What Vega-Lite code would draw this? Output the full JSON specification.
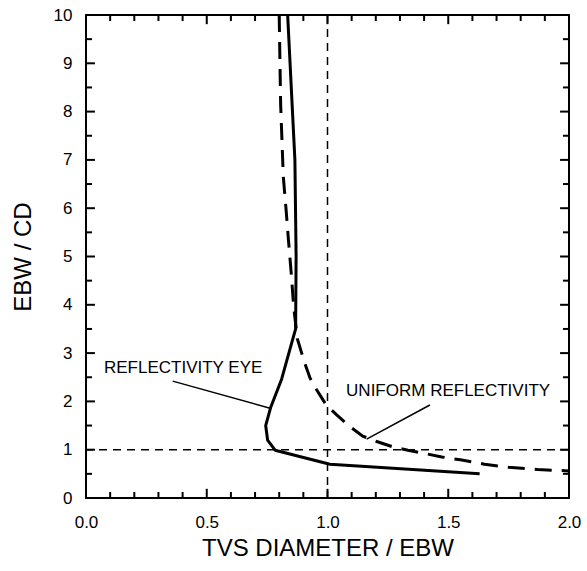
{
  "$schema": "https://vega.github.io/schema/vega-lite/v6.json",
  "width": 483,
  "height": 483,
  "autosize": {"type": "none"},
  "padding": {"left": 86, "top": 15, "right": 18, "bottom": 73},
  "background": "white",
  "config": {
    "view": {"stroke": "black", "strokeWidth": 2},
    "axis": {
      "grid": false,
      "domain": false,
      "ticks": false,
      "labelFlush": false,
      "labelOverlap": false,
      "labelColor": "black",
      "labelFont": "Liberation Sans",
      "labelFontSize": 17,
      "titleFont": "Liberation Sans",
      "titleFontSize": 24,
      "titleFontWeight": "normal",
      "titleColor": "black"
    }
  },
  "datasets": {
    "curves": [
      {"series": "eye", "i": 1, "x": 0.835, "y": 10},
      {"series": "eye", "i": 2, "x": 0.845, "y": 9},
      {"series": "eye", "i": 3, "x": 0.855, "y": 8},
      {"series": "eye", "i": 4, "x": 0.865, "y": 7},
      {"series": "eye", "i": 5, "x": 0.87, "y": 5},
      {"series": "eye", "i": 6, "x": 0.868, "y": 3.5},
      {"series": "eye", "i": 7, "x": 0.81, "y": 2.46},
      {"series": "eye", "i": 8, "x": 0.765, "y": 1.88},
      {"series": "eye", "i": 9, "x": 0.744, "y": 1.5},
      {"series": "eye", "i": 10, "x": 0.752, "y": 1.2},
      {"series": "eye", "i": 11, "x": 0.783, "y": 0.99},
      {"series": "eye", "i": 12, "x": 1.01, "y": 0.7},
      {"series": "eye", "i": 13, "x": 1.63, "y": 0.5},
      {"series": "uniform", "i": 1, "x": 0.8, "y": 10},
      {"series": "uniform", "i": 2, "x": 0.806, "y": 8.15},
      {"series": "uniform", "i": 3, "x": 0.817, "y": 6.65},
      {"series": "uniform", "i": 4, "x": 0.828, "y": 6.0},
      {"series": "uniform", "i": 5, "x": 0.839, "y": 5.3},
      {"series": "uniform", "i": 6, "x": 0.85, "y": 4.64},
      {"series": "uniform", "i": 7, "x": 0.86, "y": 3.96},
      {"series": "uniform", "i": 8, "x": 0.875, "y": 3.3},
      {"series": "uniform", "i": 9, "x": 0.904, "y": 2.82},
      {"series": "uniform", "i": 10, "x": 0.928, "y": 2.48},
      {"series": "uniform", "i": 11, "x": 0.955, "y": 2.24},
      {"series": "uniform", "i": 12, "x": 0.994, "y": 1.93},
      {"series": "uniform", "i": 13, "x": 1.038, "y": 1.72},
      {"series": "uniform", "i": 14, "x": 1.093, "y": 1.48},
      {"series": "uniform", "i": 15, "x": 1.146, "y": 1.28},
      {"series": "uniform", "i": 16, "x": 1.204, "y": 1.17},
      {"series": "uniform", "i": 17, "x": 1.27, "y": 1.06},
      {"series": "uniform", "i": 18, "x": 1.333, "y": 0.99},
      {"series": "uniform", "i": 19, "x": 1.404, "y": 0.92},
      {"series": "uniform", "i": 20, "x": 1.473, "y": 0.85},
      {"series": "uniform", "i": 21, "x": 1.55, "y": 0.79},
      {"series": "uniform", "i": 22, "x": 1.65, "y": 0.7},
      {"series": "uniform", "i": 23, "x": 1.75, "y": 0.635},
      {"series": "uniform", "i": 24, "x": 1.87, "y": 0.59},
      {"series": "uniform", "i": 25, "x": 2.0, "y": 0.56}
    ],
    "xmajor": [{"v": 0.5}, {"v": 1.0}, {"v": 1.5}],
    "xminor": [
      {"v": 0.1}, {"v": 0.2}, {"v": 0.3}, {"v": 0.4}, {"v": 0.6}, {"v": 0.7}, {"v": 0.8}, {"v": 0.9},
      {"v": 1.1}, {"v": 1.2}, {"v": 1.3}, {"v": 1.4}, {"v": 1.6}, {"v": 1.7}, {"v": 1.8}, {"v": 1.9}
    ],
    "ymajor": [{"v": 1}, {"v": 2}, {"v": 3}, {"v": 4}, {"v": 5}, {"v": 6}, {"v": 7}, {"v": 8}, {"v": 9}],
    "yminor": [
      {"v": 0.5}, {"v": 1.5}, {"v": 2.5}, {"v": 3.5}, {"v": 4.5},
      {"v": 5.5}, {"v": 6.5}, {"v": 7.5}, {"v": 8.5}, {"v": 9.5}
    ],
    "refx": [{"x": 1}],
    "refy": [{"y": 1}],
    "leaders": [
      {"x": 0.359, "y": 2.42, "x2": 0.762, "y2": 1.86},
      {"x": 1.424, "y": 1.925, "x2": 1.162, "y2": 1.22}
    ],
    "labels": [
      {"x": 0.0745, "y": 2.59, "text": "REFLECTIVITY EYE"},
      {"x": 1.077, "y": 2.11, "text": "UNIFORM REFLECTIVITY"}
    ]
  },
  "layer": [
    {
      "data": {"name": "curves"},
      "transform": [{"filter": "datum.series === 'eye'"}],
      "mark": {"type": "line", "color": "black", "strokeWidth": 3, "strokeJoin": "round"},
      "encoding": {
        "x": {"field": "x", "type": "quantitative",
              "scale": {"domain": [0, 2], "nice": false, "zero": false},
              "axis": {"orient": "bottom", "values": [0, 0.5, 1, 1.5, 2], "format": ".1f",
                       "labelPadding": 16, "title": "TVS DIAMETER / EBW", "titlePadding": 6}},
        "y": {"field": "y", "type": "quantitative",
              "scale": {"domain": [0, 10], "nice": false, "zero": false},
              "axis": {"orient": "left", "values": [0,1,2,3,4,5,6,7,8,9,10],
                       "labelPadding": 14, "title": "EBW / CD", "titlePadding": 18}},
        "order": {"field": "i", "type": "quantitative"}
      }
    },
    {
      "data": {"name": "curves"},
      "transform": [{"filter": "datum.series === 'uniform'"}],
      "mark": {"type": "line", "color": "black", "strokeWidth": 3, "strokeDash": [17, 10]},
      "encoding": {
        "x": {"field": "x", "type": "quantitative"},
        "y": {"field": "y", "type": "quantitative"},
        "order": {"field": "i", "type": "quantitative"}
      }
    },
    {
      "data": {"name": "refx"},
      "mark": {"type": "rule", "color": "black", "strokeWidth": 1.5, "strokeDash": [8, 6]},
      "encoding": {"x": {"field": "x", "type": "quantitative"}}
    },
    {
      "data": {"name": "refy"},
      "mark": {"type": "rule", "color": "black", "strokeWidth": 1.5, "strokeDash": [8, 6]},
      "encoding": {"y": {"field": "y", "type": "quantitative"}}
    },
    {
      "data": {"name": "leaders"},
      "mark": {"type": "rule", "color": "black", "strokeWidth": 1.5},
      "encoding": {
        "x": {"field": "x", "type": "quantitative"},
        "y": {"field": "y", "type": "quantitative"},
        "x2": {"field": "x2"},
        "y2": {"field": "y2"}
      }
    },
    {
      "data": {"name": "xmajor"},
      "mark": {"type": "rule", "color": "black", "strokeWidth": 2},
      "encoding": {"x": {"field": "v", "type": "quantitative"}, "y": {"datum": 0, "type": "quantitative"}, "y2": {"datum": 0.19}}
    },
    {
      "data": {"name": "xmajor"},
      "mark": {"type": "rule", "color": "black", "strokeWidth": 2},
      "encoding": {"x": {"field": "v", "type": "quantitative"}, "y": {"datum": 10, "type": "quantitative"}, "y2": {"datum": 9.81}}
    },
    {
      "data": {"name": "xminor"},
      "mark": {"type": "rule", "color": "black", "strokeWidth": 2},
      "encoding": {"x": {"field": "v", "type": "quantitative"}, "y": {"datum": 0, "type": "quantitative"}, "y2": {"datum": 0.125}}
    },
    {
      "data": {"name": "xminor"},
      "mark": {"type": "rule", "color": "black", "strokeWidth": 2},
      "encoding": {"x": {"field": "v", "type": "quantitative"}, "y": {"datum": 10, "type": "quantitative"}, "y2": {"datum": 9.875}}
    },
    {
      "data": {"name": "ymajor"},
      "mark": {"type": "rule", "color": "black", "strokeWidth": 2},
      "encoding": {"y": {"field": "v", "type": "quantitative"}, "x": {"datum": 0, "type": "quantitative"}, "x2": {"datum": 0.037}}
    },
    {
      "data": {"name": "ymajor"},
      "mark": {"type": "rule", "color": "black", "strokeWidth": 2},
      "encoding": {"y": {"field": "v", "type": "quantitative"}, "x": {"datum": 2, "type": "quantitative"}, "x2": {"datum": 1.963}}
    },
    {
      "data": {"name": "yminor"},
      "mark": {"type": "rule", "color": "black", "strokeWidth": 2},
      "encoding": {"y": {"field": "v", "type": "quantitative"}, "x": {"datum": 0, "type": "quantitative"}, "x2": {"datum": 0.025}}
    },
    {
      "data": {"name": "yminor"},
      "mark": {"type": "rule", "color": "black", "strokeWidth": 2},
      "encoding": {"y": {"field": "v", "type": "quantitative"}, "x": {"datum": 2, "type": "quantitative"}, "x2": {"datum": 1.975}}
    },
    {
      "data": {"name": "labels"},
      "mark": {"type": "text", "color": "black", "font": "Liberation Sans", "fontSize": 17,
               "align": "left", "baseline": "alphabetic"},
      "encoding": {
        "x": {"field": "x", "type": "quantitative"},
        "y": {"field": "y", "type": "quantitative"},
        "text": {"field": "text"}
      }
    }
  ]
}
